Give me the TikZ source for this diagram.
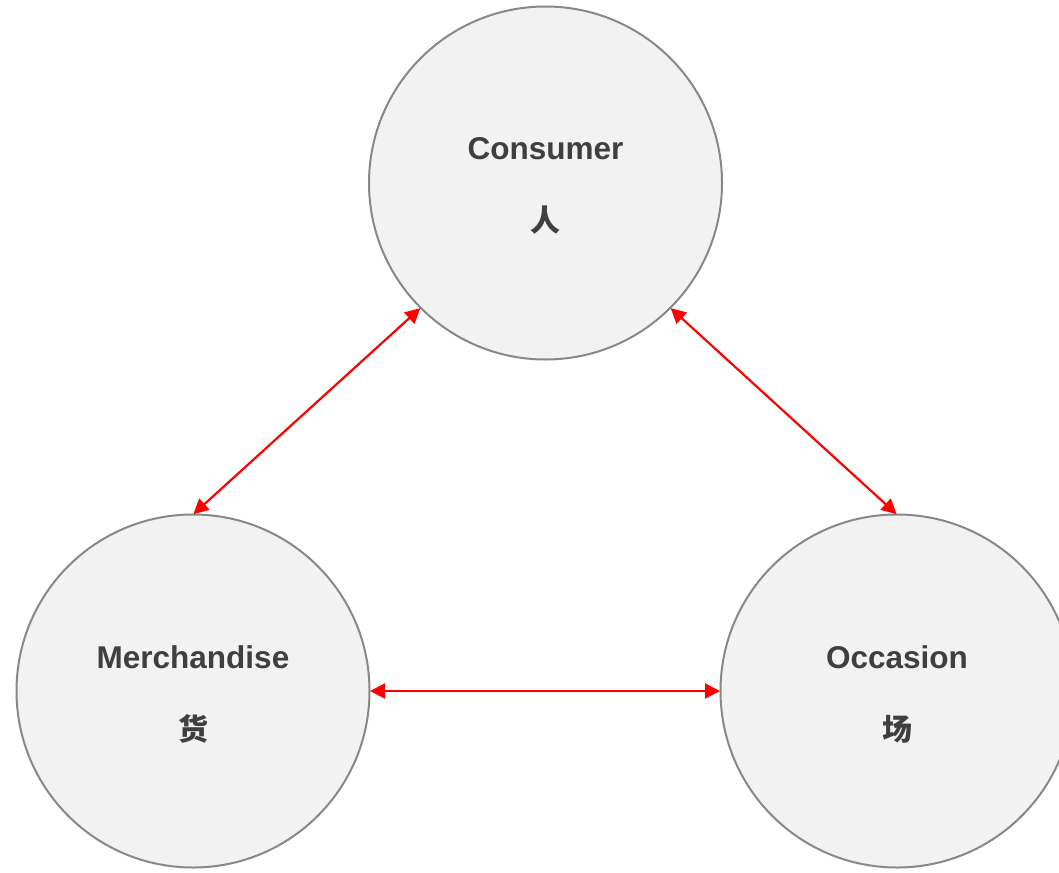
\documentclass[tikz,border=0pt]{standalone}
\usepackage{fontspec}
\setmainfont{Liberation Sans}
\newfontfamily\cjk{Noto Sans CJK SC}
\usetikzlibrary{arrows.meta}
\definecolor{circfill}{HTML}{F2F2F2}
\definecolor{circline}{HTML}{888888}
\definecolor{txtcol}{HTML}{3F3F3F}
\definecolor{arrred}{HTML}{FF0000}
\begin{document}
\begin{tikzpicture}[x=1pt,y=-1pt,
  bubble/.style={circle,draw=circline,fill=circfill,line width=2pt,minimum size=353pt,inner sep=0pt,outer sep=0pt},
  entxt/.style={text=txtcol,font=\fontsize{31.5}{36}\selectfont\bfseries,inner sep=0pt},
  zhtxt/.style={text=txtcol,font=\fontsize{30}{34}\cjk\bfseries,inner sep=0pt},
  link/.style={arrred,line width=2.2pt,{Triangle[length=15pt,width=15pt]}-{Triangle[length=15pt,width=15pt]},shorten <=0.5pt,shorten >=0.5pt}]
\useasboundingbox (0,0) rectangle (1059,872);
\begin{scope}
\clip (0,0) rectangle (1059,872);
\node[bubble] (top) at (545.5,183) {};
\node[bubble] (left) at (193,691) {};
\node[bubble] (right) at (897,691) {};
\end{scope}
\node[entxt] (t1) at (545.5,149) {Consumer};
\node[zhtxt] (t2) at (545.5,220) {人};
\node[entxt] (l1) at (193,657) {Merchandise};
\node[zhtxt] (l2) at (193,729) {货};
\node[entxt] (r1) at (897,657) {Occasion};
\node[zhtxt] (r2) at (897,729) {场};
\draw[link] (top.-135) -- (left.north);
\draw[link] (top.-45) -- (right.north);
\draw[link] (left.east) -- (right.west);
\end{tikzpicture}
\end{document}
